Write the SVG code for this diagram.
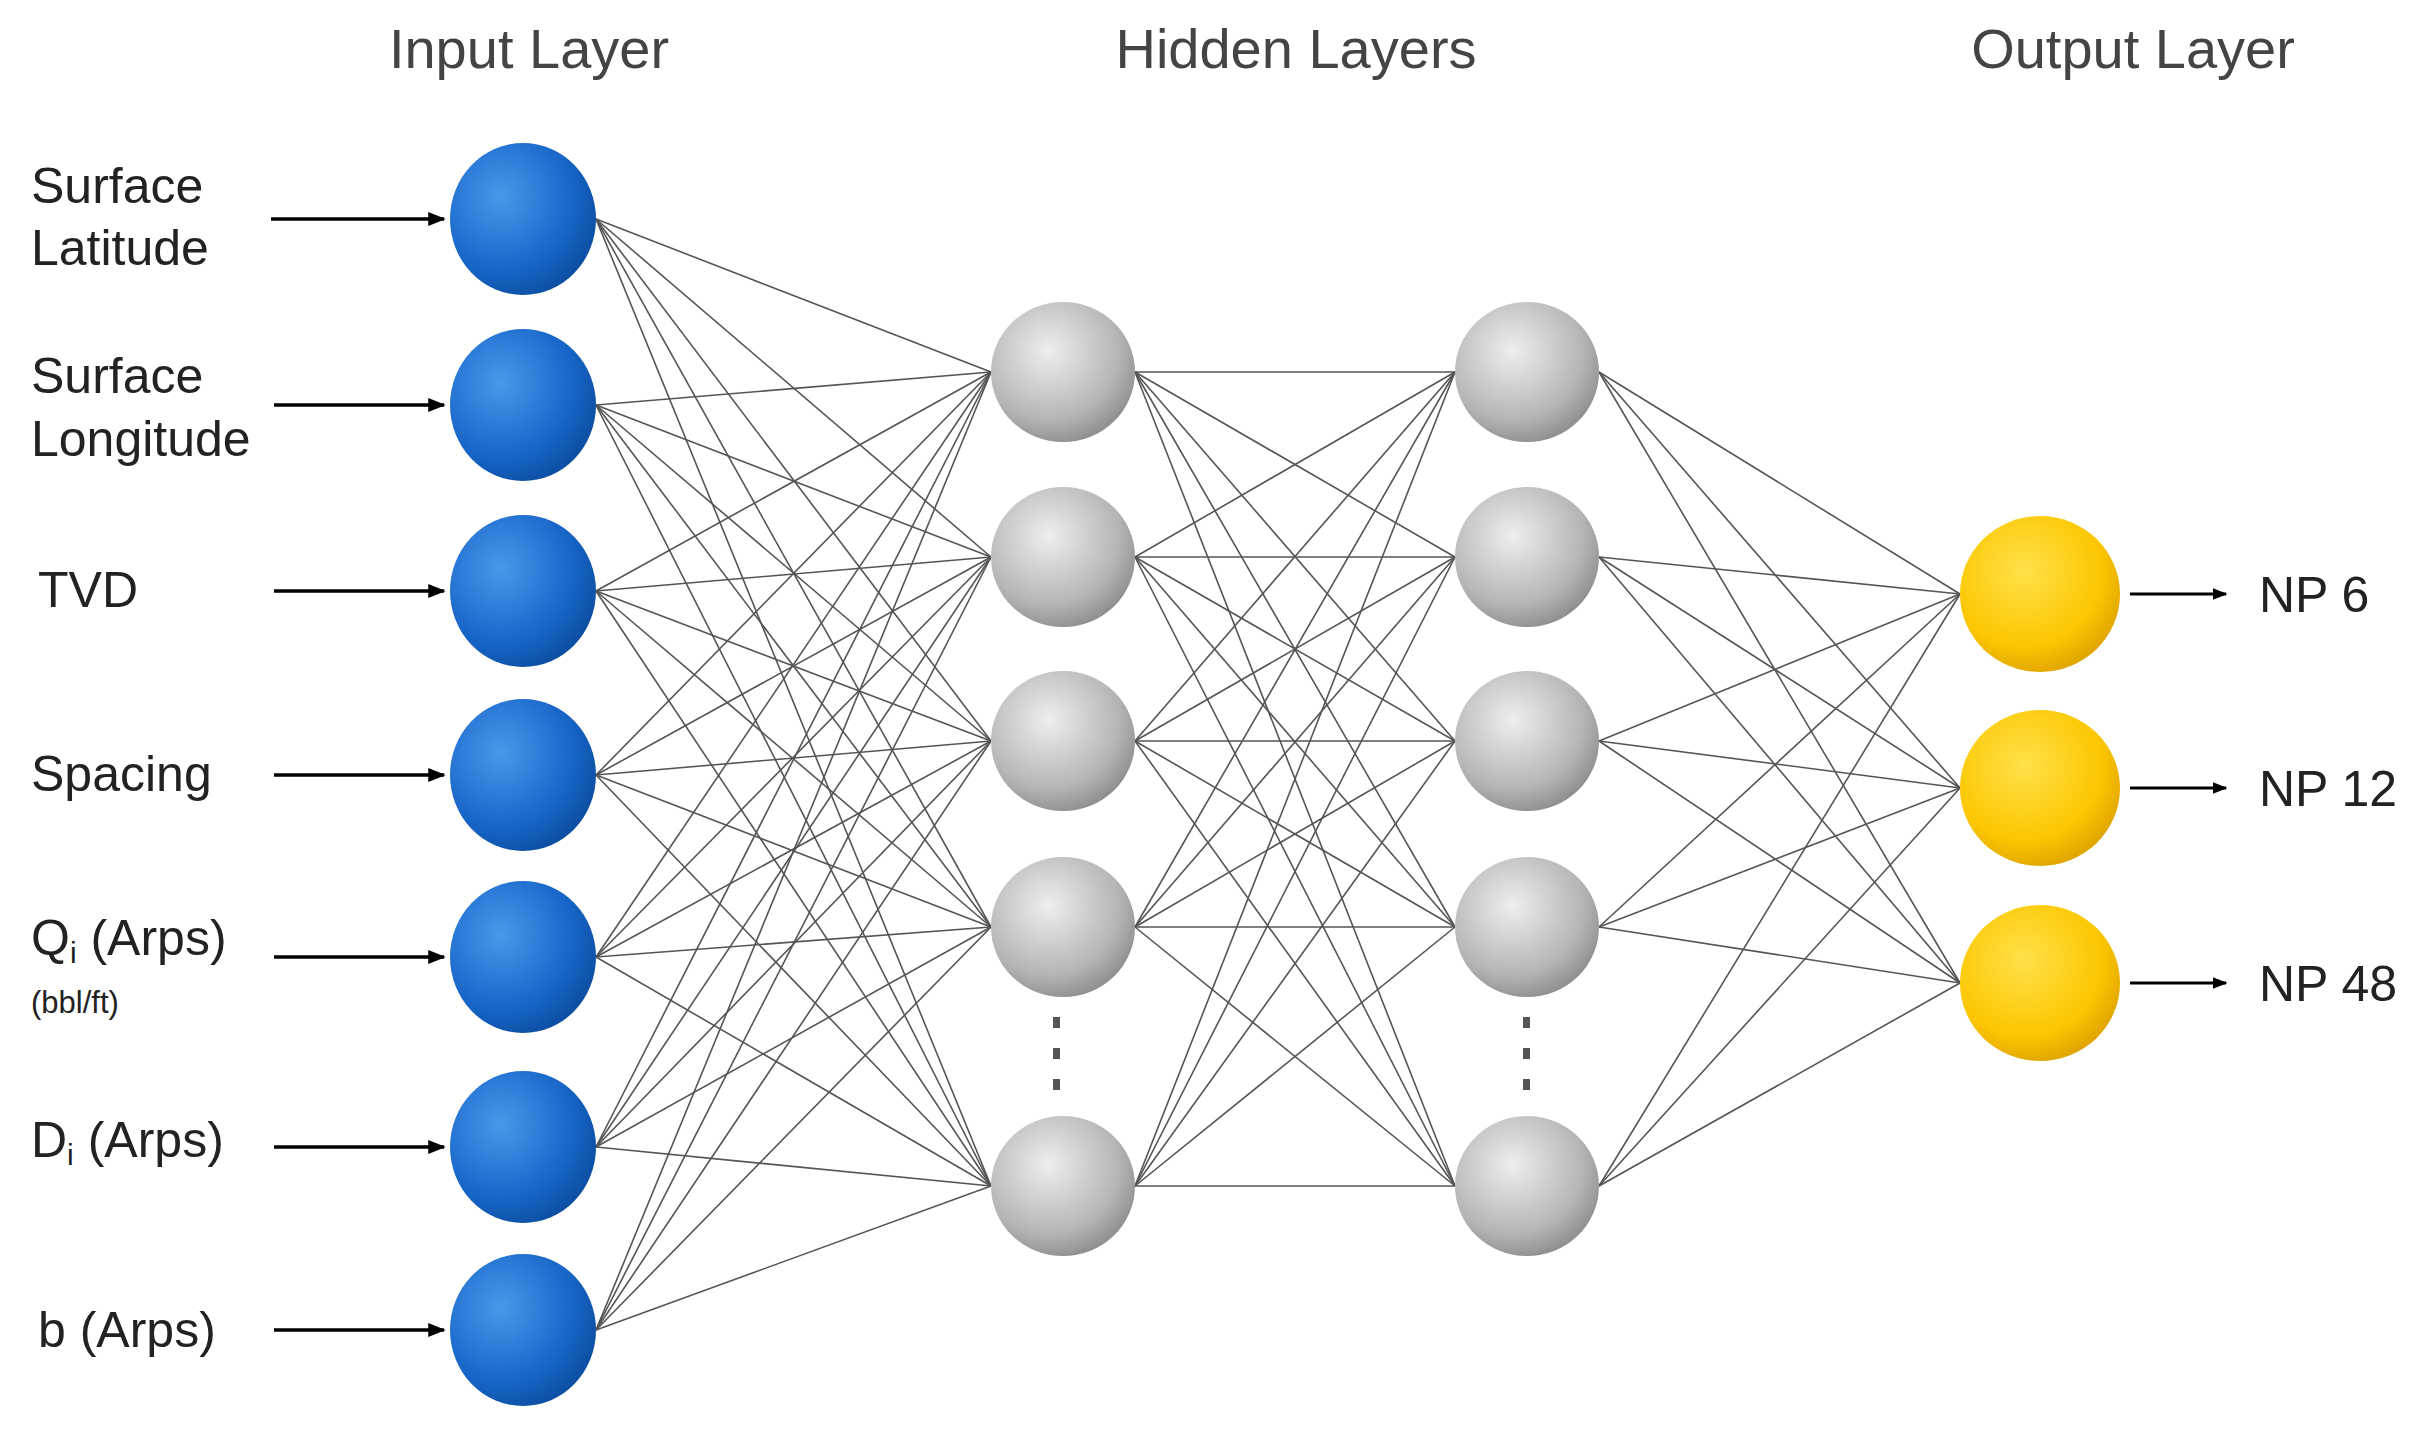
<svg xmlns="http://www.w3.org/2000/svg" width="2431" height="1441" viewBox="0 0 2431 1441">
<style>
.t{font-family:"Liberation Sans",Arial,sans-serif}
.h{font-size:56px;fill:#444}
.l{font-size:50px;fill:#222}
.c line{stroke:#555;stroke-width:1.6}
.c line.a{stroke:#000;stroke-width:3.5}
.c line.o{stroke:#000;stroke-width:3}
</style>
<defs>
<radialGradient id="gb" cx="0.35" cy="0.35" r="0.7"><stop offset="0" stop-color="#4a98ec"/><stop offset="0.7" stop-color="#1766c8"/><stop offset="1" stop-color="#0d4fa3"/></radialGradient>
<radialGradient id="gg" cx="0.4" cy="0.35" r="0.7"><stop offset="0" stop-color="#eeeeee"/><stop offset="0.7" stop-color="#b5b5b5"/><stop offset="1" stop-color="#8a8a8a"/></radialGradient>
<radialGradient id="gy" cx="0.4" cy="0.35" r="0.7"><stop offset="0" stop-color="#ffe14a"/><stop offset="0.7" stop-color="#fcc600"/><stop offset="1" stop-color="#dca000"/></radialGradient>
<marker id="ar" viewBox="0 0 10 10" refX="9" refY="5" markerWidth="5" markerHeight="5" orient="auto" markerUnits="strokeWidth"><path d="M0,1 L10,5 L0,9 z" fill="#000"/></marker>
</defs>
<g class="t h"><text x="529" y="68" text-anchor="middle">Input Layer</text><text x="1296" y="68" text-anchor="middle">Hidden Layers</text><text x="2133" y="68" text-anchor="middle">Output Layer</text></g>
<g class="c" id="connectors">
<line x1="596" y1="219" x2="991" y2="372"/><line x1="596" y1="219" x2="991" y2="557"/><line x1="596" y1="219" x2="991" y2="741"/><line x1="596" y1="219" x2="991" y2="927"/><line x1="596" y1="219" x2="991" y2="1186"/>
<line x1="596" y1="405" x2="991" y2="372"/><line x1="596" y1="405" x2="991" y2="557"/><line x1="596" y1="405" x2="991" y2="741"/><line x1="596" y1="405" x2="991" y2="927"/><line x1="596" y1="405" x2="991" y2="1186"/>
<line x1="596" y1="591" x2="991" y2="372"/><line x1="596" y1="591" x2="991" y2="557"/><line x1="596" y1="591" x2="991" y2="741"/><line x1="596" y1="591" x2="991" y2="927"/><line x1="596" y1="591" x2="991" y2="1186"/>
<line x1="596" y1="775" x2="991" y2="372"/><line x1="596" y1="775" x2="991" y2="557"/><line x1="596" y1="775" x2="991" y2="741"/><line x1="596" y1="775" x2="991" y2="927"/><line x1="596" y1="775" x2="991" y2="1186"/>
<line x1="596" y1="957" x2="991" y2="372"/><line x1="596" y1="957" x2="991" y2="557"/><line x1="596" y1="957" x2="991" y2="741"/><line x1="596" y1="957" x2="991" y2="927"/><line x1="596" y1="957" x2="991" y2="1186"/>
<line x1="596" y1="1147" x2="991" y2="372"/><line x1="596" y1="1147" x2="991" y2="557"/><line x1="596" y1="1147" x2="991" y2="741"/><line x1="596" y1="1147" x2="991" y2="927"/><line x1="596" y1="1147" x2="991" y2="1186"/>
<line x1="596" y1="1330" x2="991" y2="372"/><line x1="596" y1="1330" x2="991" y2="557"/><line x1="596" y1="1330" x2="991" y2="741"/><line x1="596" y1="1330" x2="991" y2="927"/><line x1="596" y1="1330" x2="991" y2="1186"/>
<line x1="1135" y1="372" x2="1455" y2="372"/><line x1="1135" y1="372" x2="1455" y2="557"/><line x1="1135" y1="372" x2="1455" y2="741"/><line x1="1135" y1="372" x2="1455" y2="927"/><line x1="1135" y1="372" x2="1455" y2="1186"/>
<line x1="1135" y1="557" x2="1455" y2="372"/><line x1="1135" y1="557" x2="1455" y2="557"/><line x1="1135" y1="557" x2="1455" y2="741"/><line x1="1135" y1="557" x2="1455" y2="927"/><line x1="1135" y1="557" x2="1455" y2="1186"/>
<line x1="1135" y1="741" x2="1455" y2="372"/><line x1="1135" y1="741" x2="1455" y2="557"/><line x1="1135" y1="741" x2="1455" y2="741"/><line x1="1135" y1="741" x2="1455" y2="927"/><line x1="1135" y1="741" x2="1455" y2="1186"/>
<line x1="1135" y1="927" x2="1455" y2="372"/><line x1="1135" y1="927" x2="1455" y2="557"/><line x1="1135" y1="927" x2="1455" y2="741"/><line x1="1135" y1="927" x2="1455" y2="927"/><line x1="1135" y1="927" x2="1455" y2="1186"/>
<line x1="1135" y1="1186" x2="1455" y2="372"/><line x1="1135" y1="1186" x2="1455" y2="557"/><line x1="1135" y1="1186" x2="1455" y2="741"/><line x1="1135" y1="1186" x2="1455" y2="927"/><line x1="1135" y1="1186" x2="1455" y2="1186"/>
<line x1="1599" y1="372" x2="1960" y2="594"/><line x1="1599" y1="372" x2="1960" y2="788"/><line x1="1599" y1="372" x2="1960" y2="983"/>
<line x1="1599" y1="557" x2="1960" y2="594"/><line x1="1599" y1="557" x2="1960" y2="788"/><line x1="1599" y1="557" x2="1960" y2="983"/>
<line x1="1599" y1="741" x2="1960" y2="594"/><line x1="1599" y1="741" x2="1960" y2="788"/><line x1="1599" y1="741" x2="1960" y2="983"/>
<line x1="1599" y1="927" x2="1960" y2="594"/><line x1="1599" y1="927" x2="1960" y2="788"/><line x1="1599" y1="927" x2="1960" y2="983"/>
<line x1="1599" y1="1186" x2="1960" y2="594"/><line x1="1599" y1="1186" x2="1960" y2="788"/><line x1="1599" y1="1186" x2="1960" y2="983"/>
<line class="a" x1="271" y1="219" x2="444" y2="219" marker-end="url(#ar)"/>
<line class="a" x1="274" y1="405" x2="444" y2="405" marker-end="url(#ar)"/>
<line class="a" x1="274" y1="591" x2="444" y2="591" marker-end="url(#ar)"/>
<line class="a" x1="274" y1="775" x2="444" y2="775" marker-end="url(#ar)"/>
<line class="a" x1="274" y1="957" x2="444" y2="957" marker-end="url(#ar)"/>
<line class="a" x1="274" y1="1147" x2="444" y2="1147" marker-end="url(#ar)"/>
<line class="a" x1="274" y1="1330" x2="444" y2="1330" marker-end="url(#ar)"/>
<line class="o" x1="2130" y1="594" x2="2226" y2="594" marker-end="url(#ar)"/>
<line class="o" x1="2130" y1="788" x2="2226" y2="788" marker-end="url(#ar)"/>
<line class="o" x1="2130" y1="983" x2="2226" y2="983" marker-end="url(#ar)"/>
</g>
<g id="in1"><ellipse cx="523" cy="219" rx="73" ry="76" fill="url(#gb)"/><text class="t l" x="31" y="203">Surface</text><text class="t l" x="31" y="265">Latitude</text></g>
<g id="in2"><ellipse cx="523" cy="405" rx="73" ry="76" fill="url(#gb)"/><text class="t l" x="31" y="393">Surface</text><text class="t l" x="31" y="456">Longitude</text></g>
<g id="in3"><ellipse cx="523" cy="591" rx="73" ry="76" fill="url(#gb)"/><text class="t l" x="38" y="607">TVD</text></g>
<g id="in4"><ellipse cx="523" cy="775" rx="73" ry="76" fill="url(#gb)"/><text class="t l" x="31" y="791">Spacing</text></g>
<g id="in5"><ellipse cx="523" cy="957" rx="73" ry="76" fill="url(#gb)"/><text class="t l" x="31" y="955">Q<tspan font-size="30" dy="8">i</tspan><tspan dy="-8"> (Arps)</tspan></text><text class="t" font-size="31" fill="#222" x="31" y="1013">(bbl/ft)</text></g>
<g id="in6"><ellipse cx="523" cy="1147" rx="73" ry="76" fill="url(#gb)"/><text class="t l" x="31" y="1157">D<tspan font-size="30" dy="8">i</tspan><tspan dy="-8"> (Arps)</tspan></text></g>
<g id="in7"><ellipse cx="523" cy="1330" rx="73" ry="76" fill="url(#gb)"/><text class="t l" x="38" y="1347">b (Arps)</text></g>
<g id="h1a"><ellipse cx="1063" cy="372" rx="72" ry="70" fill="url(#gg)"/></g>
<g id="h1b"><ellipse cx="1063" cy="557" rx="72" ry="70" fill="url(#gg)"/></g>
<g id="h1c"><ellipse cx="1063" cy="741" rx="72" ry="70" fill="url(#gg)"/></g>
<g id="h1d"><ellipse cx="1063" cy="927" rx="72" ry="70" fill="url(#gg)"/></g>
<g id="h1e"><ellipse cx="1063" cy="1186" rx="72" ry="70" fill="url(#gg)"/></g>
<g id="h2a"><ellipse cx="1527" cy="372" rx="72" ry="70" fill="url(#gg)"/></g>
<g id="h2b"><ellipse cx="1527" cy="557" rx="72" ry="70" fill="url(#gg)"/></g>
<g id="h2c"><ellipse cx="1527" cy="741" rx="72" ry="70" fill="url(#gg)"/></g>
<g id="h2d"><ellipse cx="1527" cy="927" rx="72" ry="70" fill="url(#gg)"/></g>
<g id="h2e"><ellipse cx="1527" cy="1186" rx="72" ry="70" fill="url(#gg)"/></g>
<g id="dots" fill="#555"><rect x="1053" y="1017" width="7" height="11"/><rect x="1053" y="1048" width="7" height="11"/><rect x="1053" y="1079" width="7" height="11"/><rect x="1523" y="1017" width="7" height="11"/><rect x="1523" y="1048" width="7" height="11"/><rect x="1523" y="1079" width="7" height="11"/></g>
<g id="o1"><ellipse cx="2040" cy="594" rx="80" ry="78" fill="url(#gy)"/><text class="t l" fill="#000" x="2259" y="612">NP 6</text></g>
<g id="o2"><ellipse cx="2040" cy="788" rx="80" ry="78" fill="url(#gy)"/><text class="t l" x="2259" y="806">NP 12</text></g>
<g id="o3"><ellipse cx="2040" cy="983" rx="80" ry="78" fill="url(#gy)"/><text class="t l" x="2259" y="1001">NP 48</text></g>
</svg>
